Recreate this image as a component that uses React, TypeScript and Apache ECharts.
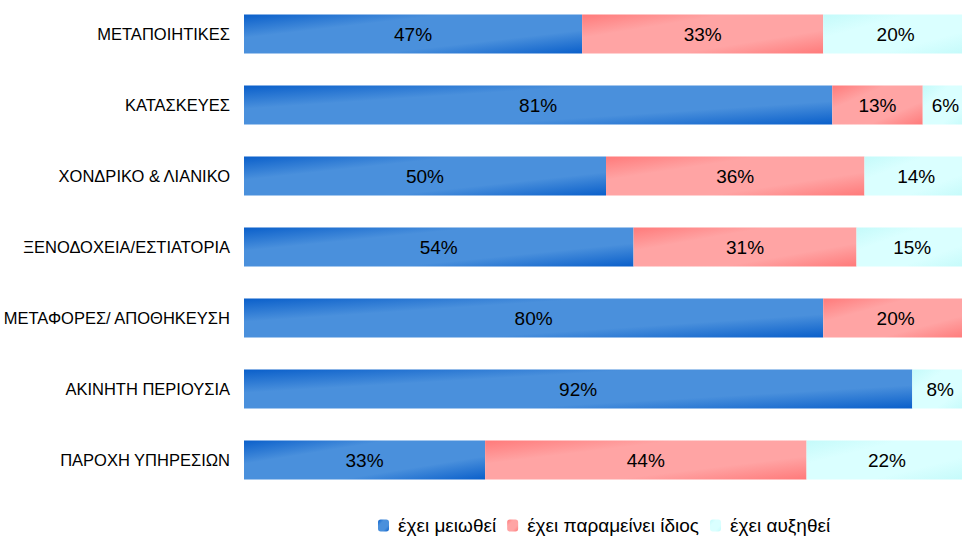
import React, { useEffect, useRef } from "react";
import * as echarts from "echarts";

const categories = [
  "ΜΕΤΑΠΟΙΗΤΙΚΕΣ",
  "ΚΑΤΑΣΚΕΥΕΣ",
  "ΧΟΝΔΡΙΚΟ & ΛΙΑΝΙΚΟ",
  "ΞΕΝΟΔΟΧΕΙΑ/ΕΣΤΙΑΤΟΡΙΑ",
  "ΜΕΤΑΦΟΡΕΣ/ ΑΠΟΘΗΚΕΥΣΗ",
  "ΑΚΙΝΗΤΗ ΠΕΡΙΟΥΣΙΑ",
  "ΠΑΡΟΧΗ ΥΠΗΡΕΣΙΩΝ",
];
const seriesNames = ["έχει μειωθεί", "έχει παραμείνει ίδιος", "έχει αυξηθεί"];
const decreased = [46.7, 81.25, 50.0, 53.8, 80.0, 92.3, 33.3];
const unchanged = [33.3, 12.5, 35.7, 30.8, 20.0, 0, 44.4];
const increased = [20.0, 6.25, 14.3, 15.4, 0, 7.7, 22.2];

const grad = (dark: string, light: string) =>
  new echarts.graphic.LinearGradient(0, 0, 1, 1, [
    { offset: 0, color: dark },
    { offset: 0.3, color: light },
    { offset: 0.7, color: light },
    { offset: 1, color: dark },
  ]);

export default function App() {
  const ref = useRef<HTMLDivElement>(null);
  useEffect(() => {
    document.body.style.margin = "0";
    if (!ref.current) return;
    const chart = echarts.init(ref.current, undefined, { renderer: "svg" });
    const colors = [
      grad("#0a5fca", "#4a90dc"),
      grad("#ff7a7a", "#ffa4a4"),
      grad("#c4fafa", "#daffff"),
    ];
    const data = [decreased, unchanged, increased];
    chart.setOption({
      animation: false,
      grid: {
        left: 244,
        width: 724,
        top: -1.5,
        height: 497,
        containLabel: false,
        outerBoundsMode: "none",
      },
      xAxis: { type: "value", min: 0, max: 100, show: false },
      yAxis: {
        type: "category",
        data: categories,
        inverse: true,
        axisLine: { show: false },
        axisTick: { show: false },
        axisLabel: {
          color: "#000",
          fontSize: 16.5,
          margin: 14,
          fontFamily: "'Liberation Sans Narrow', 'Liberation Sans', Arial, sans-serif",
        },
      },
      legend: {
        left: 373,
        top: 511,
        itemWidth: 11,
        itemHeight: 12,
        itemGap: 11,
        textStyle: {
          color: "#000",
          fontSize: 19,
          fontFamily: "'Liberation Sans', Arial, sans-serif",
          padding: [0, 0, 0, 4],
        },
        data: seriesNames,
      },
      series: seriesNames.map((name, i) => ({
        name,
        type: "bar",
        stack: "total",
        barWidth: 39,
        itemStyle: { color: colors[i] },
        label: {
          show: true,
          position: "inside",
          color: "#000",
          fontSize: 19,
          fontFamily: "'Liberation Sans', Arial, sans-serif",
          formatter: (p: any) => (p.value > 0 ? Math.round(p.value) + "%" : ""),
        },
        data: data[i],
      })),
    });
    return () => chart.dispose();
  }, []);
  return (
    <div
      ref={ref}
      style={{ position: "absolute", left: 0, top: 0, width: 962, height: 538 }}
    />
  );
}
